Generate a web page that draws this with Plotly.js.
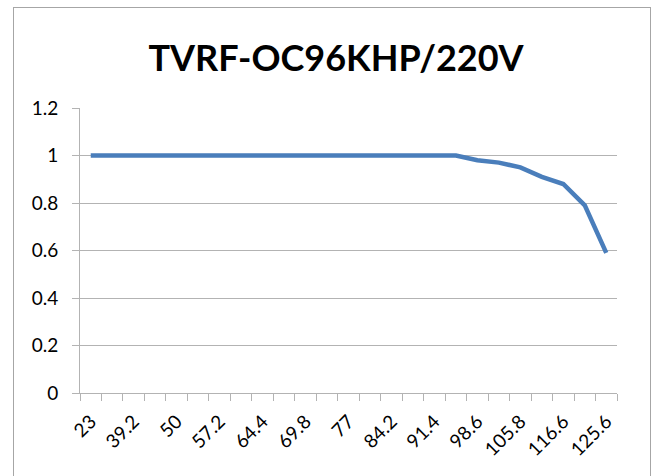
<!DOCTYPE html>
<html>
<head>
<meta charset="utf-8">
<script src="https://cdn.plot.ly/plotly-3.0.1.min.js"></script>
<style>
html,body{margin:0;padding:0;background:#fff;overflow:hidden;}
#wrap{position:relative;width:652px;height:476px;overflow:hidden;}
#chart{width:652px;height:476px;}
#frame{position:absolute;left:13px;top:7px;width:638px;height:480px;border:1.5px solid #a6a6a6;pointer-events:none;z-index:10;box-sizing:border-box;}
</style>
</head>
<body>
<div id="wrap"><div id="chart"></div><div id="frame"></div></div>
<script>
const chartTitle = 'TVRF-OC96KHP/220V';
const categories = ['23','32','39.2','44.6','50','53.6','57.2','60.8','64.4','66.2','69.8','73.4','77','80.6','84.2','87.8','91.4','95','98.6','102.2','105.8','111.2','116.6','122','125.6'];
const values = [1,1,1,1,1,1,1,1,1,1,1,1,1,1,1,1,1,1,0.98,0.97,0.95,0.91,0.88,0.79,0.59];
const yTicks = [0,0.2,0.4,0.6,0.8,1,1.2];
const yTickText = ['0','0.2','0.4','0.6','0.8','1','1.2'];

const xIdx = categories.map((c,i)=>i);
const labelIdx = xIdx.filter(i=>i%2===0);
const labelText = labelIdx.map(i=>categories[i]);

const W=652,H=476, ml=80, mr=35, mt=108, mb=83;

const grey='#b3b3b3';
const font='Lato, "Open Sans", sans-serif';

Plotly.newPlot('chart',[{
  x:xIdx, y:values, type:'scatter', mode:'lines',
  line:{color:'#4a7ebb', width:4.5}, hoverinfo:'skip', showlegend:false
}],{
  width:W,height:H,
  margin:{l:ml,r:mr,t:mt,b:mb,pad:0},
  paper_bgcolor:'rgba(0,0,0,0)', plot_bgcolor:'rgba(0,0,0,0)',
  font:{family:font,color:'#000',size:19},
  title:{text:'<b>'+chartTitle+'</b>', font:{family:font,size:36,color:'#000'},
    x:336/W, xanchor:'center', xref:'container', y:1-58/H, yanchor:'middle', yref:'container'},
  xaxis:{range:[-0.5,categories.length-0.5], tickmode:'array', tickvals:labelIdx, ticktext:labelText,
    tickangle:-45, ticks:'', showgrid:false, zeroline:false, showline:true, linecolor:grey, linewidth:1,
    tickfont:{family:font,size:19,color:'#000'}, ticklabelstandoff:9,
    minor:{tickmode:'linear', tick0:-0.5, dtick:1, ticks:'outside', ticklen:7, tickcolor:grey, tickwidth:1, showgrid:false}},
  yaxis:{range:[0,1.2], tickmode:'array', tickvals:yTicks, ticktext:yTickText, ticks:'outside', ticklen:7,
    tickcolor:grey, tickwidth:1, showgrid:true, gridcolor:grey, gridwidth:1, zeroline:false,
    showline:true, linecolor:grey, linewidth:1, tickfont:{family:font,size:19,color:'#000'}, ticklabelstandoff:10}
},{staticPlot:true});
</script>
</body>
</html>
